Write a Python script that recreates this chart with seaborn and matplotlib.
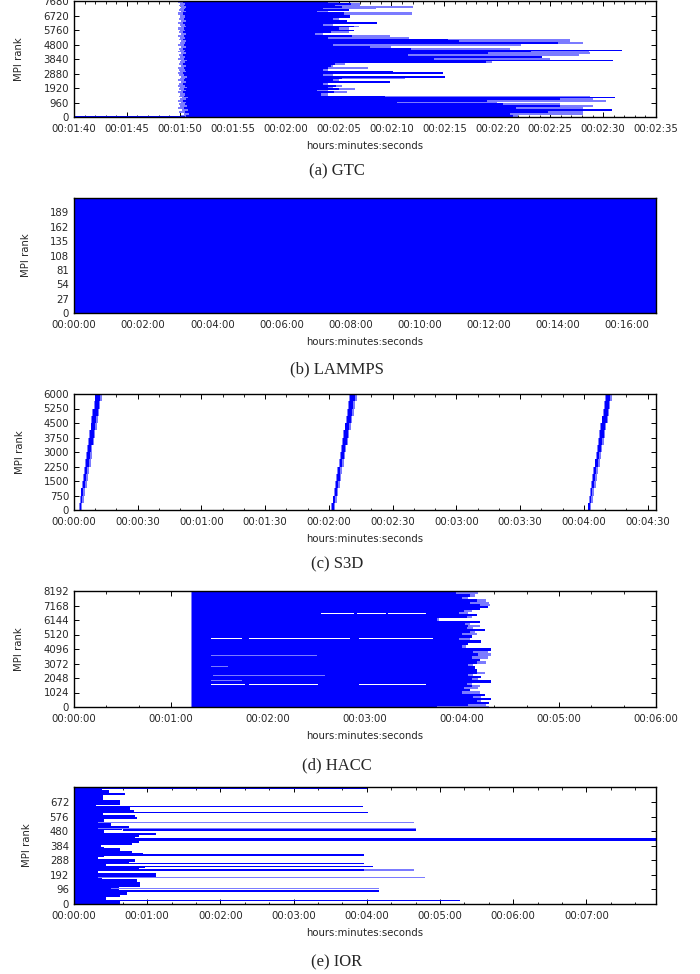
import numpy as np
import matplotlib
matplotlib.use("Agg")
import matplotlib.pyplot as plt
import seaborn as sns
from matplotlib.ticker import MultipleLocator, FixedLocator

# ---------------- DATA ----------------
# (a) GTC : rank-group edges, start/end times (seconds)
gtc_edges = [0, 110, 250, 400, 560, 660, 800, 900, 1020, 1120, 1240, 1330, 1420,
             1560, 1700, 1800, 1900, 2020, 2150, 2270, 2400, 2500, 2620, 2720,
             2860, 2990, 3080, 3200, 3320, 3460, 3600, 3700, 3780, 3900, 4020,
             4160, 4300, 4370, 4440, 4560, 4680, 4820, 4960, 5080, 5180, 5320,
             5420, 5560, 5680, 5800, 5950, 6050, 6150, 6300, 6440, 6600, 6780,
             6940, 7060, 7160, 7260, 7360, 7440, 7560, 7640, 7700]
gtc_start = [110.6, 110.9, 110.5, 110.8, 110.4,
             110.7, 110.5, 110.6, 110.3, 110.6,
             110.8, 110.4, 110.5, 110.3, 110.6,
             110.4, 110.7, 110.5, 110.3, 110.6,
             110.4, 110.5, 110.7, 110.4, 110.3,
             110.6, 110.5, 110.4, 110.6, 110.3,
             110.5, 110.7, 110.4, 110.5, 110.3,
             110.6, 110.4, 110.5, 110.3, 110.6,
             110.4, 110.5, 110.6, 110.3, 110.5,
             110.4, 110.6, 110.3, 110.5, 110.4,
             110.6, 110.5, 110.3, 110.6, 110.4,
             110.5, 110.3, 110.6, 110.4, 110.5,
             110.6, 110.4, 110.5, 110.3, 110.5]
gtc_lstart = [110.1, 110.4, 109.9, 110.2, 109.8,
              110.0, 109.9, 110.1, 109.8, 110.0,
              110.2, 109.9, 110.0, 109.8, 110.1,
              109.9, 110.0, 109.8, 109.9, 110.1,
              109.8, 110.0, 110.1, 109.9, 109.8,
              110.0, 109.9, 109.8, 110.1, 109.9,
              110.0, 110.1, 109.8, 110.0, 109.9,
              110.1, 109.8, 110.0, 109.9, 110.1,
              109.8, 110.0, 110.1, 109.9, 110.0,
              109.8, 110.1, 109.9, 110.0, 109.8,
              110.1, 110.0, 109.8, 110.1, 109.9,
              110.0, 109.8, 110.1, 109.9, 110.0,
              110.1, 109.9, 110.0, 109.8, 110.2]
gtc_dark_end = [141.5, 141.2, 144.8, 150.8, 141.8,
                145.9, 140.5, 130.5, 139.0, 145.9,
                151.1, 129.4, 123.3, 124.6, 123.0,
                125.0, 124.0, 124.8, 123.5, 129.9,
                124.5, 125.3, 135.1, 123.5, 134.9,
                130.1, 123.5, 124.0, 124.3, 124.7,
                138.9, 150.9, 134.0, 144.2, 131.6,
                139.1, 143.2, 151.8, 131.8, 128.0,
                124.5, 145.7, 136.4, 135.3, 124.0,
                126.3, 122.8, 124.3, 126.5, 125.0,
                126.5, 123.5, 128.6, 125.8, 124.5,
                126.1, 125.5, 123.0, 126.0, 123.5,
                125.3, 124.7, 126.2, 124.0, 125.8]
gtc_light_end = [142.0, 148.1, 148.1, 143.5, 148.1,
                 149.0, 145.9, 140.0, 150.3, 149.0,
                 148.8, 148.8, 124.0, 125.8, 124.0,
                 126.6, 124.5, 125.3, 124.0, 129.9,
                 125.0, 131.3, 135.1, 124.5, 134.9,
                 130.1, 124.0, 127.8, 124.5, 125.6,
                 139.5, 150.9, 145.0, 144.2, 147.7,
                 148.8, 148.7, 148.7, 141.2, 130.0,
                 142.2, 148.1, 146.9, 146.9, 131.7,
                 129.9, 123.5, 126.0, 126.3, 126.0,
                 126.9, 124.5, 128.6, 125.8, 125.0,
                 126.1, 131.9, 124.0, 126.0, 128.5,
                 132.0, 127.0, 127.0, 125.0, 125.8]
gtc_init_rank = [0, 40]
gtc_init_time = [100.0, 110.5]
gtc_xticks = [100, 105, 110, 115, 120, 125, 130, 135, 140, 145, 150, 155]
gtc_xlabels = ["00:01:40", "00:01:45", "00:01:50", "00:01:55", "00:02:00", "00:02:05",
               "00:02:10", "00:02:15", "00:02:20", "00:02:25", "00:02:30", "00:02:35"]
gtc_yticks = [0, 960, 1920, 2880, 3840, 4800, 5760, 6720, 7680]

# (b) LAMMPS
lmp_rank_lo = [0]
lmp_rank_hi = [216]
lmp_start = [0]
lmp_end = [1010]
lmp_xticks = [0, 120, 240, 360, 480, 600, 720, 840, 960]
lmp_xlabels = ["00:00:00", "00:02:00", "00:04:00", "00:06:00", "00:08:00",
               "00:10:00", "00:12:00", "00:14:00", "00:16:00"]
lmp_yticks = [0, 27, 54, 81, 108, 135, 162, 189]

# (c) S3D : three write phases, rank groups of 375
s3d_edges = [0, 375, 750, 1125, 1500, 1875, 2250, 2625, 3000, 3375, 3750,
             4125, 4500, 4875, 5250, 5625, 6000]
s3d_phase1 = [2.6, 3.1, 3.5, 4.2, 4.6, 5.1, 5.7, 6.1, 6.6, 7.2, 7.6, 8.2, 8.6, 9.1, 9.7, 10.1]
s3d_phase2 = [121.6, 122.1, 122.8, 123.3, 123.9, 124.4, 125.0, 125.6, 126.1, 126.7,
              127.2, 127.8, 128.3, 128.9, 129.5, 130.0]
s3d_phase3 = [242.2, 242.8, 243.3, 243.8, 244.4, 244.9, 245.5, 246.0, 246.6, 247.1,
              247.7, 248.2, 248.8, 249.3, 249.8, 250.3]
s3d_dur = [0.6, 0.8, 0.8, 1.0, 1.1, 1.0, 1.3, 1.4, 1.3, 1.6, 1.7, 1.6, 1.9, 2.0, 1.9, 2.2]
s3d_base_rank = [0, 25]
s3d_base_time = [0, 274]
s3d_xticks = [0, 30, 60, 90, 120, 150, 180, 210, 240, 270]
s3d_xlabels = ["00:00:00", "00:00:30", "00:01:00", "00:01:30", "00:02:00",
               "00:02:30", "00:03:00", "00:03:30", "00:04:00", "00:04:30"]
s3d_yticks = [0, 750, 1500, 2250, 3000, 3750, 4500, 5250, 6000]

# (d) HACC
hacc_edges = [0, 60, 200, 350, 500, 650, 800, 950, 1100, 1250, 1400, 1550, 1700,
              1900, 2050, 2200, 2350, 2500, 2700, 2900, 3050, 3250, 3400, 3600,
              3800, 3950, 4150, 4350, 4500, 4700, 4900, 5050, 5200, 5350, 5500,
              5650, 5800, 5950, 6100, 6250, 6400, 6550, 6700, 6850, 7000, 7150,
              7300, 7450, 7650, 7800, 7950, 8120, 8192]
hacc_start = 72.7
hacc_lstart = 72.1
hacc_dark_end = [224.3, 244, 257, 249, 258, 247, 254, 240, 245, 241, 246, 243, 258,
                 246, 252, 244, 249, 249, 248, 244, 249, 251, 246, 250, 247, 258,
                 240, 244, 252, 238, 246, 240, 245, 254, 243, 244, 242, 251, 224.3,
                 243, 249, 238, 241, 251, 256, 251, 245, 249, 240, 245, 236, 257.5]
hacc_light_end = [257, 255, 256, 252, 257, 252, 251, 251, 244, 250, 251, 246, 251,
                  250, 249, 247, 254, 244, 243, 247, 255, 250, 256, 258, 256, 254,
                  242.5, 243, 245, 245, 244, 249, 248, 251, 247, 251, 245, 250, 226,
                  246, 247, 244, 246, 250, 252, 257.2, 256.5, 255, 244, 248, 250, 259.6]
hacc_gap_rank = [6585, 6585, 6585, 4840, 4840, 4840, 2830, 2830, 2830, 1580, 1580, 1580]
hacc_gap_start = [152.6, 175.0, 194.0, 84.7, 108.0, 176.3, 95.8, 108.3, 152.6, 84.7, 108.0, 176.0]
hacc_gap_end = [173.5, 193.0, 218.0, 104.1, 170.7, 222.0, 105.5, 148.5, 220.7, 105.5, 151.0, 218.0]
hacc_stripe_rank = [7835, 6650, 5500, 5380, 4530, 3655, 2880, 2240, 1890, 990, 710, 355]
hacc_stripe_start = [84.7, 84.7, 152.6, 176.0, 113.0, 84.7, 84.7, 86.0, 84.7, 84.7, 113.0, 84.7]
hacc_stripe_end = [153.0, 107.0, 220.6, 218.0, 203.0, 150.0, 95.0, 155.0, 104.0, 220.0, 212.0, 220.0]
hacc_xticks = [0, 60, 120, 180, 240, 300, 360]
hacc_xlabels = ["00:00:00", "00:01:00", "00:02:00", "00:03:00", "00:04:00",
                "00:05:00", "00:06:00"]
hacc_yticks = [0, 1024, 2048, 3072, 4096, 5120, 6144, 7168, 8192]

# (e) IOR
ior_edges = [0, 26, 44, 59, 81, 101, 114, 132, 147, 163, 180, 202, 224, 235, 251,
             268, 279, 295, 308, 323, 339, 352, 367, 378, 389, 405, 422, 440, 455,
             471, 488, 499, 515, 532, 543, 559, 572, 587, 603, 620, 638, 653, 686,
             719, 735, 752, 768]
ior_block_end = [38.1, 26.0, 37.6, 43.6, 36.7, 36.7, 54.0, 54.5, 51.7, 23.0, 66.8,
                 20.0, 53.0, 58.5, 26.0, 45.0, 50.4, 20.0, 24.5, 56.6, 47.6, 38.1,
                 24.5, 21.8, 47.6, 53.1, 50.4, 53.1, 66.8, 24.5, 39.5, 45.0, 30.0,
                 19.6, 24.5, 51.7, 50.4, 24.0, 49.0, 46.3, 17.7, 37.6, 24.0, 42.2,
                 29.0, 23.1]
ior_line_rank = [763, 642, 605, 539, 499, 488, 433, 426, 323, 268, 246, 224, 224, 174, 101, 86, 24]
ior_line_start = [18, 17, 24, 20, 20, 40, 20, 20, 20, 20, 40, 20, 238, 20, 30, 20, 20]
ior_line_end = [240, 237, 241, 279, 280, 280.5, 238, 477, 238, 238, 244.7, 238, 279, 288, 250.2, 250, 316.3]
ior_line_light = [False, False, False, True, True, False, True, False, False, False,
                  False, False, True, True, True, False, False]
ior_line_thick = [10, 10, 10, 9, 9, 10, 9, 15, 10, 10, 10, 10, 9, 9, 9, 10, 10]
ior_xticks = [0, 60, 120, 180, 240, 300, 360, 420]
ior_xlabels = ["00:00:00", "00:01:00", "00:02:00", "00:03:00", "00:04:00",
               "00:05:00", "00:06:00", "00:07:00"]
ior_yticks = [0, 96, 192, 288, 384, 480, 576, 672]

# ---------------- STYLE ----------------
sns.set_theme(style="ticks")
plt.rcParams["font.family"] = ["DejaVu Sans"]
DARK = "#0000ff"
LIGHT = "#7b7bff"
FS = 7.3

fig = plt.figure(figsize=(7.0, 9.74), dpi=100)
W, H = 700.0, 974.0


def make_axes(top_px, bot_px):
    return fig.add_axes([74 / W, 1 - bot_px / H, 582 / W, (bot_px - top_px) / H])


def bars(ax, lo, hi, start, end, color, z=1):
    lo = np.asarray(lo, float)
    hi = np.asarray(hi, float)
    start = np.asarray(start, float)
    end = np.asarray(end, float)
    ax.barh(y=lo, width=end - start, left=start, height=hi - lo, align="edge",
            color=color, linewidth=0, zorder=z)


def style(ax, xlim, ylim, xticks, xlabels, yticks, xminor, ylab_x, axh):
    ax.set_xlim(*xlim)
    ax.set_ylim(*ylim)
    ax.xaxis.set_major_locator(FixedLocator(xticks))
    ax.set_xticklabels(xlabels)
    ax.xaxis.set_minor_locator(MultipleLocator(xminor))
    ax.yaxis.set_major_locator(FixedLocator(yticks))
    ax.set_yticklabels([str(v) for v in yticks])
    ax.set_axisbelow(True)
    ax.tick_params(which="major", direction="in", top=True, right=True,
                   length=3.5, width=0.7, color="black", labelsize=FS, pad=3.5)
    ax.tick_params(which="minor", direction="in", top=True, right=True,
                   length=1.8, width=0.6, color="black")
    ax.tick_params(axis="x", which="major", pad=5)
    for s in ax.spines.values():
        s.set_color("black")
        s.set_linewidth(1.0)
        s.set_zorder(3)
    ax.set_xlabel("hours:minutes:seconds", fontsize=FS)
    ax.xaxis.set_label_coords(0.5, -28.7 / axh)
    ax.xaxis.label.set_va("center")
    ax.set_ylabel("MPI rank", fontsize=FS)
    ax.yaxis.set_label_coords((ylab_x - 74) / 582.0, 0.5)
    ax.yaxis.label.set_va("center")


def caption(text, y_px):
    fig.text(337 / W, 1 - y_px / H, text, ha="center", va="center",
             fontsize=12, family=["Liberation Serif", "DejaVu Serif"])


# (a) GTC
ax = make_axes(1, 117)
lo = gtc_edges[:-1]
hi = gtc_edges[1:]
bars(ax, lo, hi, gtc_lstart, gtc_light_end, LIGHT)
bars(ax, lo, hi, gtc_start, gtc_dark_end, DARK)
bars(ax, [gtc_init_rank[0]], [gtc_init_rank[1]], [gtc_init_time[0]], [gtc_init_time[1]], DARK)
style(ax, (100, 155), (0, 7700), gtc_xticks, gtc_xlabels, gtc_yticks, 1, 19, 116)
caption("(a) GTC", 171)

# (b) LAMMPS
ax = make_axes(198, 313)
bars(ax, lmp_rank_lo, lmp_rank_hi, lmp_start, lmp_end, DARK)
style(ax, (0, 1010), (0, 216), lmp_xticks, lmp_xlabels, lmp_yticks, 60, 25.6, 115)
caption("(b) LAMMPS", 369)

# (c) S3D
ax = make_axes(394, 510)
bars(ax, [s3d_base_rank[0]], [s3d_base_rank[1]], [s3d_base_time[0]], [s3d_base_time[1]], LIGHT)
lo = s3d_edges[:-1]
hi = s3d_edges[1:]
for phase in (s3d_phase1, s3d_phase2, s3d_phase3):
    p = np.asarray(phase)
    d = np.asarray(s3d_dur)
    bars(ax, lo, hi, p - 0.4, p + d + 0.8, LIGHT)
    bars(ax, lo, hi, p, p + d, DARK)
style(ax, (0, 274), (0, 6000), s3d_xticks, s3d_xlabels, s3d_yticks, 10, 20, 116)
caption("(c) S3D", 564)

# (d) HACC
ax = make_axes(591, 707)
lo = hacc_edges[:-1]
hi = hacc_edges[1:]
n = len(lo)
bars(ax, lo, hi, [hacc_lstart] * n, hacc_light_end, LIGHT)
bars(ax, lo, hi, [hacc_start] * n, hacc_dark_end, DARK)
sr = np.asarray(hacc_stripe_rank, float)
bars(ax, sr - 20, sr + 20, hacc_stripe_start, hacc_stripe_end, LIGHT, z=1.5)
gr = np.asarray(hacc_gap_rank, float)
bars(ax, gr - 28, gr + 28, hacc_gap_start, hacc_gap_end, "white", z=1.6)
style(ax, (0, 360), (0, 8192), hacc_xticks, hacc_xlabels, hacc_yticks, 20, 19, 116)
caption("(d) HACC", 765)

# (e) IOR
ax = make_axes(787, 904)
lo = ior_edges[:-1]
hi = ior_edges[1:]
bars(ax, lo, hi, [0] * len(lo), ior_block_end, DARK)
lr = np.asarray(ior_line_rank, float)
th = np.asarray(ior_line_thick, float)
for flag, col in ((True, LIGHT), (False, DARK)):
    m = np.asarray(ior_line_light) == flag
    bars(ax, (lr - th / 2)[m], (lr + th / 2)[m], np.asarray(ior_line_start, float)[m],
         np.asarray(ior_line_end, float)[m], col, z=1.2 if flag else 1.3)
style(ax, (0, 477), (0, 772), ior_xticks, ior_xlabels, ior_yticks, 20, 27, 117)
caption("(e) IOR", 962)

fig.savefig("out.png", dpi=100)
